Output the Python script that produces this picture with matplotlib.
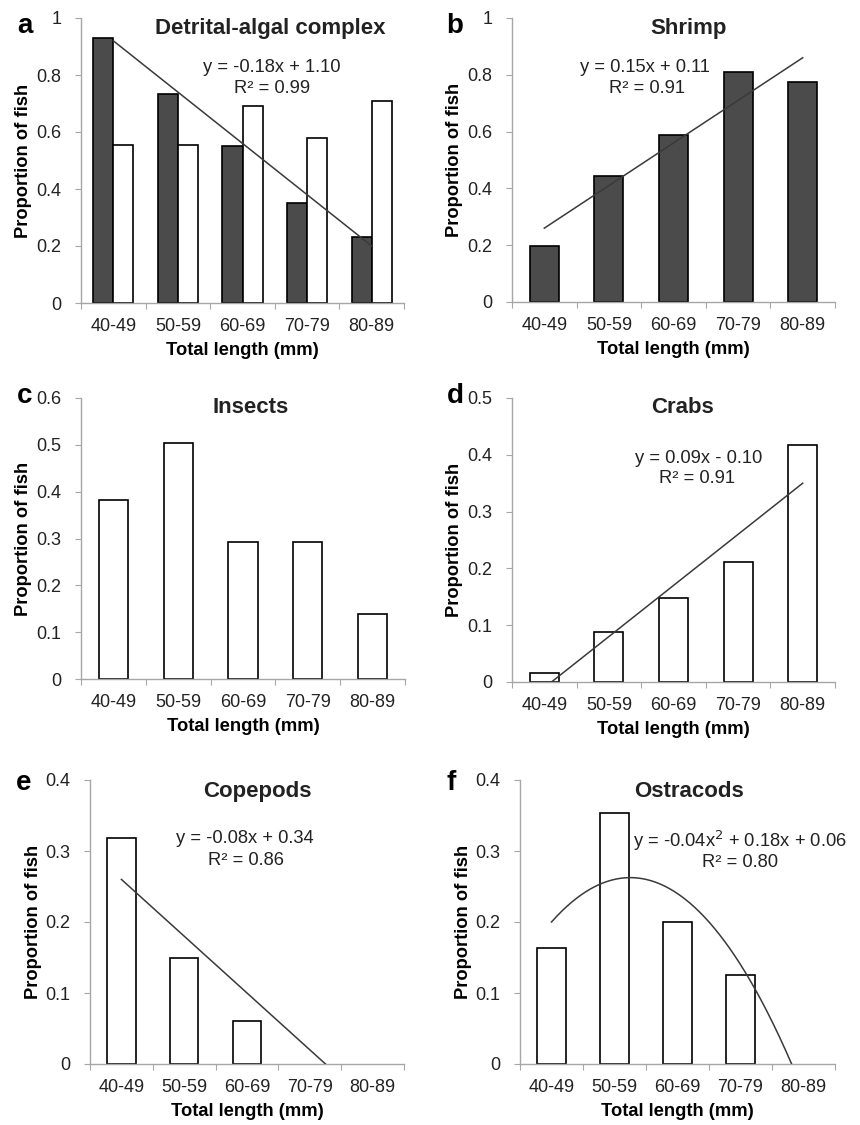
import numpy as np
import matplotlib
matplotlib.use('Agg')
import matplotlib.pyplot as plt
from matplotlib.ticker import FixedLocator, FuncFormatter

plt.rcParams['font.family'] = ['Liberation Sans', 'DejaVu Sans']

# data
categories = ['40-49', '50-59', '60-69', '70-79', '80-89']
detrital_dark = [0.93, 0.735, 0.55, 0.35, 0.23]
detrital_white = [0.555, 0.555, 0.69, 0.58, 0.71]
shrimp = [0.198, 0.445, 0.588, 0.81, 0.775]
insects = [0.382, 0.504, 0.292, 0.292, 0.139]
crabs = [0.015, 0.088, 0.148, 0.211, 0.417]
copepods = [0.319, 0.15, 0.06, 0.0, 0.0]
ostracods = [0.164, 0.354, 0.2, 0.126, 0.0]

# trendline coefficients printed on the panels (x = 1..5)
detrital_fit = [-0.18, 1.10]
shrimp_fit = [0.15, 0.11]
crabs_fit = [0.09, -0.10]
copepods_fit = [-0.08, 0.34]
ostracods_fit = [-0.04, 0.18, 0.06]

W, H = 860, 1125
DARK = '#4b4b4b'
SPINE = '#a6a6a6'
LINE = '#3a3a3a'
TXT = '#222222'
TICK_FS = 13
LAB_FS = 13.2
EQ_FS = 13.2
TITLE_FS = 16
PANEL_FS = 20

fig = plt.figure(figsize=(W / 100, H / 100), dpi=100)


def px_axes(l, t, r, b):
    return fig.add_axes([l / W, 1 - b / H, (r - l) / W, (b - t) / H])


def ftext(x, y, s, **kw):
    kw.setdefault('ha', 'center')
    kw.setdefault('va', 'baseline')
    fig.text(x / W, 1 - y / H, s, **kw)


def style(ax, ymax, step):
    for side in ['top', 'right']:
        ax.spines[side].set_visible(False)
    for side in ['left', 'bottom']:
        ax.spines[side].set_color(SPINE)
        ax.spines[side].set_linewidth(1.0)
    ax.set_xlim(-0.5, 4.5)
    ax.set_ylim(0, ymax)
    ax.xaxis.set_major_locator(FixedLocator(np.arange(-0.5, 5, 1)))
    ax.xaxis.set_major_formatter(FuncFormatter(lambda v, p: ''))
    ax.xaxis.set_minor_locator(FixedLocator(np.arange(5)))
    ax.set_xticklabels(categories, minor=True)
    ax.tick_params(axis='x', which='major', length=4, color=SPINE, direction='out')
    ax.tick_params(axis='x', which='minor', length=0, pad=10.5, labelsize=TICK_FS, labelcolor=TXT)
    ax.set_yticks(np.round(np.arange(0, ymax + step / 2, step), 2))
    ax.yaxis.set_major_formatter(FuncFormatter(lambda v, p: '{:g}'.format(round(v, 2))))
    ax.tick_params(axis='y', length=4, color=SPINE, direction='out', pad=10,
                   labelsize=TICK_FS, labelcolor=TXT)
    ax.set_ylabel('Proportion of fish', fontsize=LAB_FS, fontweight='bold')
    ax.yaxis.set_label_coords(-0.152, 0.5)
    ax.set_xlabel('Total length (mm)', fontsize=LAB_FS, fontweight='bold')
    ax.xaxis.set_label_coords(0.5, -0.138)


def single_bars(ax, vals, color):
    x = np.arange(len(vals))
    lw = [1.2 if v > 0 else 0 for v in vals]
    ax.bar(x, vals, width=0.45, color=color, edgecolor='black', linewidth=lw, zorder=2)


def trend(ax, coef):
    xs = np.linspace(1, 5, 200)
    ax.plot(xs - 1, np.polyval(coef, xs), color=LINE, lw=1.1, zorder=3)


# a
ax = px_axes(81, 18, 404, 303)
x = np.arange(5)
ax.bar(x - 0.155, detrital_dark, width=0.31, color=DARK, edgecolor='black', linewidth=1.2, zorder=2)
ax.bar(x + 0.155, detrital_white, width=0.31, color='white', edgecolor='black', linewidth=1.2, zorder=2)
trend(ax, detrital_fit)
style(ax, 1.0, 0.2)
ftext(24.5, 33, 'a', fontsize=PANEL_FS, fontweight='bold')
ftext(270, 34, 'Detrital-algal complex', fontsize=TITLE_FS, fontweight='bold', color=TXT)
ftext(272, 72, 'y = -0.18x + 1.10', fontsize=EQ_FS, color=TXT)
ftext(272, 93, 'R² = 0.99', fontsize=EQ_FS, color=TXT)

# b
ax = px_axes(512, 18, 835, 302)
single_bars(ax, shrimp, DARK)
trend(ax, shrimp_fit)
style(ax, 1.0, 0.2)
ftext(455, 33, 'b', fontsize=PANEL_FS, fontweight='bold')
ftext(689, 34, 'Shrimp', fontsize=TITLE_FS, fontweight='bold', color=TXT)
ftext(645, 72, 'y = 0.15x + 0.11', fontsize=EQ_FS, color=TXT)
ftext(647, 93, 'R² = 0.91', fontsize=EQ_FS, color=TXT)

# c
ax = px_axes(81, 398, 405, 679)
single_bars(ax, insects, 'white')
style(ax, 0.6, 0.1)
ftext(25, 403, 'c', fontsize=PANEL_FS, fontweight='bold')
ftext(251, 413, 'Insects', fontsize=TITLE_FS, fontweight='bold', color=TXT)

# d
ax = px_axes(512, 398, 835, 682)
single_bars(ax, crabs, 'white')
trend(ax, crabs_fit)
style(ax, 0.5, 0.1)
ftext(455, 403, 'd', fontsize=PANEL_FS, fontweight='bold')
ftext(683, 413, 'Crabs', fontsize=TITLE_FS, fontweight='bold', color=TXT)
ftext(699, 463, 'y = 0.09x - 0.10', fontsize=EQ_FS, color=TXT)
ftext(697, 483, 'R² = 0.91', fontsize=EQ_FS, color=TXT)

# e
ax = px_axes(90, 780, 404, 1064)
single_bars(ax, copepods, 'white')
trend(ax, copepods_fit)
style(ax, 0.4, 0.1)
ftext(24, 790, 'e', fontsize=PANEL_FS, fontweight='bold')
ftext(257, 797, 'Copepods', fontsize=TITLE_FS, fontweight='bold', color=TXT)
ftext(245, 843, 'y = -0.08x + 0.34', fontsize=EQ_FS, color=TXT)
ftext(246, 865, 'R² = 0.86', fontsize=EQ_FS, color=TXT)

# f
ax = px_axes(520, 780, 835, 1064)
single_bars(ax, ostracods, 'white')
trend(ax, ostracods_fit)
style(ax, 0.4, 0.1)
ftext(451, 790, 'f', fontsize=PANEL_FS, fontweight='bold')
ftext(689, 797, 'Ostracods', fontsize=TITLE_FS, fontweight='bold', color=TXT)
ftext(740, 847, 'y = -0.04x$^2$ + 0.18x + 0.06', fontsize=EQ_FS, color=TXT)
ftext(740, 867, 'R² = 0.80', fontsize=EQ_FS, color=TXT)

fig.savefig('out.png', dpi=100)
